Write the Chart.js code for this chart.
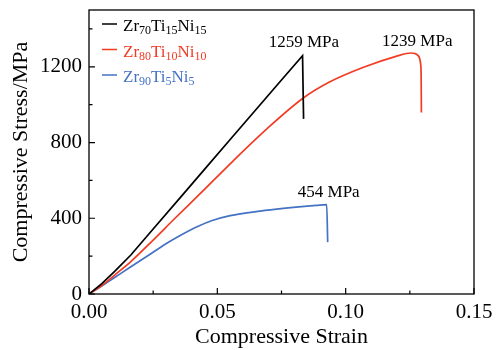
<!DOCTYPE html>
<html><head><meta charset="utf-8">
<script src="https://cdn.jsdelivr.net/npm/chart.js@4/dist/chart.umd.min.js"></script>
<style>html,body{margin:0;padding:0;background:#fff}#wrap{width:502px;height:350px}</style>
</head><body><div id="wrap"><canvas id="c" width="502" height="350"></canvas></div>
<script>
const strain70 = [0, 0.005, 0.01, 0.0163, 0.025, 0.0363, 0.045, 0.055, 0.065, 0.0744, 0.0832, 0.0836];
const stress70 = [0, 55, 120, 206, 343, 521, 658, 816, 973, 1121, 1259, 925];
const strain80 = [0, 0.005, 0.01, 0.0163, 0.025, 0.0335, 0.0428, 0.0563, 0.0693, 0.0835, 0.0935, 0.1067, 0.1196, 0.1255, 0.127, 0.128, 0.1288, 0.1292, 0.1294, 0.1295];
const stress80 = [0, 45, 100, 171, 285, 400, 523, 705, 872, 1035, 1118, 1196, 1255, 1273, 1270, 1262, 1245, 1215, 1160, 959];
const strain90 = [0, 0.005, 0.01, 0.0163, 0.0229, 0.0292, 0.035, 0.0421, 0.048, 0.055, 0.0667, 0.0757, 0.0886, 0.0926, 0.093];
const stress90 = [0, 42, 87, 144, 202, 259, 305, 355, 388, 414, 438, 452, 468, 472, 274];
const seriesNames = [["Zr","70","Ti","15","Ni","15"],["Zr","80","Ti","10","Ni","10"],["Zr","90","Ti","5","Ni","5"]];
const colors = ["#000000", "#f23b23", "#4472c4"];
const peakLabels = ["1259 MPa", "1239 MPa", "454 MPa"];
const peakLabelPos = [[0.0837, 1305], [0.1279, 1310], [0.0934, 512]];
const xTicks = [0, 0.05, 0.10, 0.15];
const xMinor = [0.025, 0.075, 0.125];
const yTicks = [0, 400, 800, 1200];
const yMinor = [200, 600, 1000, 1400];

const pts = (xs, ys) => xs.map((x, i) => ({x, y: ys[i]}));
const SERIF = "'Liberation Serif', 'Times New Roman', serif";
Chart.defaults.font.family = SERIF;
Chart.defaults.color = '#000';

const deco = {
  id: 'deco',
  afterDatasetsDraw(chart) {
    const ctx = chart.ctx, a = chart.chartArea;
    const xs = chart.scales.x, ys = chart.scales.y;
    ctx.save();
    ctx.strokeStyle = '#000'; ctx.lineWidth = 1.3;
    ctx.strokeRect(a.left, a.top, a.right - a.left, a.bottom - a.top);
    ctx.lineWidth = 1.2;
    ctx.beginPath();
    xTicks.forEach(v => { const p = xs.getPixelForValue(v); ctx.moveTo(p, a.bottom); ctx.lineTo(p, a.bottom - 6); });
    xMinor.forEach(v => { const p = xs.getPixelForValue(v); ctx.moveTo(p, a.bottom); ctx.lineTo(p, a.bottom - 3.5); });
    yTicks.forEach(v => { const p = ys.getPixelForValue(v); ctx.moveTo(a.left, p); ctx.lineTo(a.left + 6, p); });
    yMinor.forEach(v => { const p = ys.getPixelForValue(v); ctx.moveTo(a.left, p); ctx.lineTo(a.left + 3.5, p); });
    ctx.stroke();
    // peak labels
    ctx.fillStyle = '#000'; ctx.font = '17px ' + SERIF; ctx.textAlign = 'center'; ctx.textBaseline = 'alphabetic';
    peakLabels.forEach((t, i) => {
      ctx.fillText(t, xs.getPixelForValue(peakLabelPos[i][0]), ys.getPixelForValue(peakLabelPos[i][1]));
    });
    // legend
    ctx.textAlign = 'left';
    seriesNames.forEach((parts, i) => {
      const yc = a.top + 14 + i * 25.5;
      ctx.strokeStyle = colors[i]; ctx.lineWidth = 1.5;
      ctx.beginPath(); ctx.moveTo(a.left + 13, yc); ctx.lineTo(a.left + 28, yc); ctx.stroke();
      ctx.fillStyle = colors[i];
      let x = a.left + 34;
      parts.forEach((p, k) => {
        if (k % 2 === 0) { ctx.font = '17px ' + SERIF; ctx.fillText(p, x, yc + 7); }
        else { ctx.font = '12px ' + SERIF; ctx.fillText(p, x, yc + 10); }
        x += ctx.measureText(p).width;
      });
    });
    ctx.restore();
  }
};

new Chart(document.getElementById('c'), {
  type: 'scatter',
  data: {
    datasets: [
      {data: pts(strain70, stress70), borderColor: colors[0], tension: 0, cubicInterpolationMode: 'default'},
      {data: pts(strain80, stress80), borderColor: colors[1], cubicInterpolationMode: 'monotone'},
      {data: pts(strain90, stress90), borderColor: colors[2], cubicInterpolationMode: 'monotone'}
    ].map(d => Object.assign(d, {showLine: true, pointRadius: 0, borderWidth: 1.7, fill: false}))
  },
  options: {
    responsive: false, animation: false,
    layout: {padding: {top: 10, right: 28, left: 8, bottom: 0}},
    plugins: {legend: {display: false}, tooltip: {enabled: false}},
    scales: {
      x: {
        type: 'linear', min: 0, max: 0.15,
        grid: {display: false}, border: {display: false},
        afterBuildTicks: s => { s.ticks = xTicks.map(v => ({value: v})); },
        ticks: {color: '#000', font: {family: SERIF, size: 21}, padding: -2, maxRotation: 0,
          callback: v => Number(v).toFixed(2)},
        title: {display: true, text: 'Compressive Strain', color: '#000', font: {family: SERIF, size: 22}, padding: {top: 0, bottom: 0}},
        afterFit: s => { s.height = 56; s.paddingLeft = 0; s.paddingRight = 0; }
      },
      y: {
        type: 'linear', min: 0, max: 1500,
        grid: {display: false}, border: {display: false},
        afterBuildTicks: s => { s.ticks = yTicks.map(v => ({value: v})); },
        ticks: {color: '#000', font: {family: SERIF, size: 21}, padding: -1, callback: v => String(v)},
        title: {display: true, text: 'Compressive Stress/MPa', color: '#000', font: {family: SERIF, size: 22}, padding: {top: 0, bottom: 0}},
        afterFit: s => { s.width = 81; s.paddingTop = 0; s.paddingBottom = 0; }
      }
    }
  },
  plugins: [deco]
});
</script></body></html>
